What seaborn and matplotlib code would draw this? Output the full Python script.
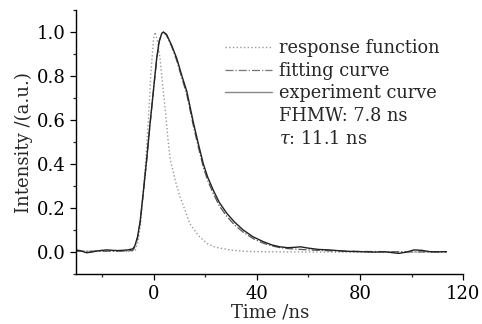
import matplotlib
matplotlib.use("Agg")
import matplotlib.pyplot as plt
import seaborn as sns
from matplotlib.lines import Line2D
from matplotlib.ticker import MultipleLocator

# Valores (tempo em ns, intensidade normalizada)
t_exp = [-30, -28, -26, -24, -22, -20, -18, -16, -14, -12, -10, -8, -7.2, -6.2, -5.2,
         -4, -2.6, -1.4, -0.1, 1.2, 2.2, 3.2, 3.8, 5, 7, 9, 11, 12.9, 15.4, 17.4,
         19.3, 21, 23.2, 25.5, 28.4, 31.5, 34.8, 38.5, 42.6, 46, 49, 52, 55, 57,
         60, 64, 68, 72, 76, 80, 85, 90, 95, 98, 101, 104, 107, 110, 113.5]
i_exp = [0.010, 0.005, -0.003, 0.000, 0.005, 0.008, 0.010, 0.008, 0.007, 0.008, 0.010,
         0.015, 0.030, 0.070, 0.140, 0.270, 0.430, 0.580, 0.730, 0.880, 0.960, 0.995,
         1.000, 0.990, 0.940, 0.880, 0.800, 0.730, 0.590, 0.490, 0.400, 0.340, 0.280,
         0.225, 0.176, 0.135, 0.100, 0.070, 0.047, 0.032, 0.024, 0.020, 0.022, 0.024,
         0.018, 0.012, 0.010, 0.006, 0.003, 0.002, 0.000, 0.001, -0.006, 0.000, 0.010,
         0.008, 0.002, 0.001, 0.002]

t_fit = [-30, -20, -10, -8, -7.2, -6.2, -5.2, -4, -2.6, -1.4, -0.1, 1.2, 2.2, 3.2,
         3.8, 5, 7, 9, 11, 12.9, 15.4, 17.4, 19.3, 21, 23.2, 25.5, 28.4, 31.5, 34.8,
         38.5, 42.6, 46, 49, 52, 56, 60, 64, 68, 72, 76, 80, 90, 100, 113.5]
i_fit = [0.004, 0.004, 0.005, 0.008, 0.025, 0.065, 0.135, 0.265, 0.425, 0.575, 0.725,
         0.875, 0.955, 0.993, 1.000, 0.985, 0.935, 0.870, 0.790, 0.715, 0.575, 0.475,
         0.385, 0.325, 0.265, 0.210, 0.162, 0.122, 0.090, 0.062, 0.040, 0.028, 0.020,
         0.016, 0.013, 0.010, 0.008, 0.006, 0.005, 0.004, 0.003, 0.002, 0.001, 0.001]

t_resp = [-30, -20, -10, -8, -7, -6, -5, -4, -3, -2, -1, 0, 0.6, 1.5, 2.5, 3.8, 4.5,
          5.7, 6.5, 8.3, 10, 12.2, 14, 17.4, 20.6, 24, 30, 35, 40, 50, 70, 90, 113.5]
i_resp = [0.004, 0.004, 0.004, 0.005, 0.010, 0.050, 0.130, 0.270, 0.420, 0.600, 0.820,
          0.970, 1.000, 0.960, 0.880, 0.730, 0.650, 0.500, 0.420, 0.330, 0.260, 0.190,
          0.130, 0.075, 0.040, 0.022, 0.009, 0.004, 0.002, 0.001, 0.000, 0.000, 0.000]

labels = ["response function", "fitting curve", "experiment curve"]
notes = ["FHMW: 7.8 ns", r"$\tau$: 11.1 ns"]

sns.set_theme(style="ticks")
plt.rcParams['font.family'] = ['DejaVu Serif']
plt.rcParams['mathtext.fontset'] = 'dejavuserif'

fig = plt.figure(figsize=(4.82, 3.24), dpi=100)
ax = fig.add_axes([0.158, 0.154, 0.803, 0.815])

sns.lineplot(x=t_resp, y=i_resp, ax=ax, color='#9a9a9a', linestyle=':', linewidth=1.0)
sns.lineplot(x=t_fit, y=i_fit, ax=ax, color='#555555', linestyle='-.', linewidth=0.9)
sns.lineplot(x=t_exp, y=i_exp, ax=ax, color='#222222', linestyle='-', linewidth=1.0)

ax.set_xlim(-30, 120)
ax.set_ylim(-0.1, 1.1)
ax.xaxis.set_major_locator(MultipleLocator(40))
ax.xaxis.set_minor_locator(MultipleLocator(20))
ax.yaxis.set_major_locator(MultipleLocator(0.2))
ax.yaxis.set_minor_locator(MultipleLocator(0.1))
ax.tick_params(which='major', direction='out', length=4, width=0.9, labelsize=13, colors='black')
ax.tick_params(which='minor', direction='out', length=2, width=0.9)
ax.set_yticks([0.0, 0.2, 0.4, 0.6, 0.8, 1.0])
ax.set_yticklabels(["0.0", "0.2", "0.4", "0.6", "0.8", "1.0"])
ax.set_xlabel('Time /ns', fontsize=13, labelpad=1)
ax.set_ylabel('Intensity /(a.u.)', fontsize=13, labelpad=3)
sns.despine(ax=ax)
for s in ['left', 'bottom']:
    ax.spines[s].set_color('black')
    ax.spines[s].set_linewidth(1.0)

handles = [Line2D([], [], color='#9a9a9a', linestyle=':', linewidth=1.0),
           Line2D([], [], color='#777777', linestyle='-.', linewidth=0.9),
           Line2D([], [], color='#888888', linestyle='-', linewidth=1.0),
           Line2D([], [], linestyle='none'),
           Line2D([], [], linestyle='none')]
ax.legend(handles, labels + notes, loc='upper left', bbox_to_anchor=(0.467, 0.879),
          bbox_transform=fig.transFigure, frameon=False, fontsize=12.8,
          borderaxespad=0, borderpad=0, handlelength=2.65, handletextpad=0.4,
          labelspacing=0.26)

plt.savefig('out.png', dpi=100)
plt.close()
